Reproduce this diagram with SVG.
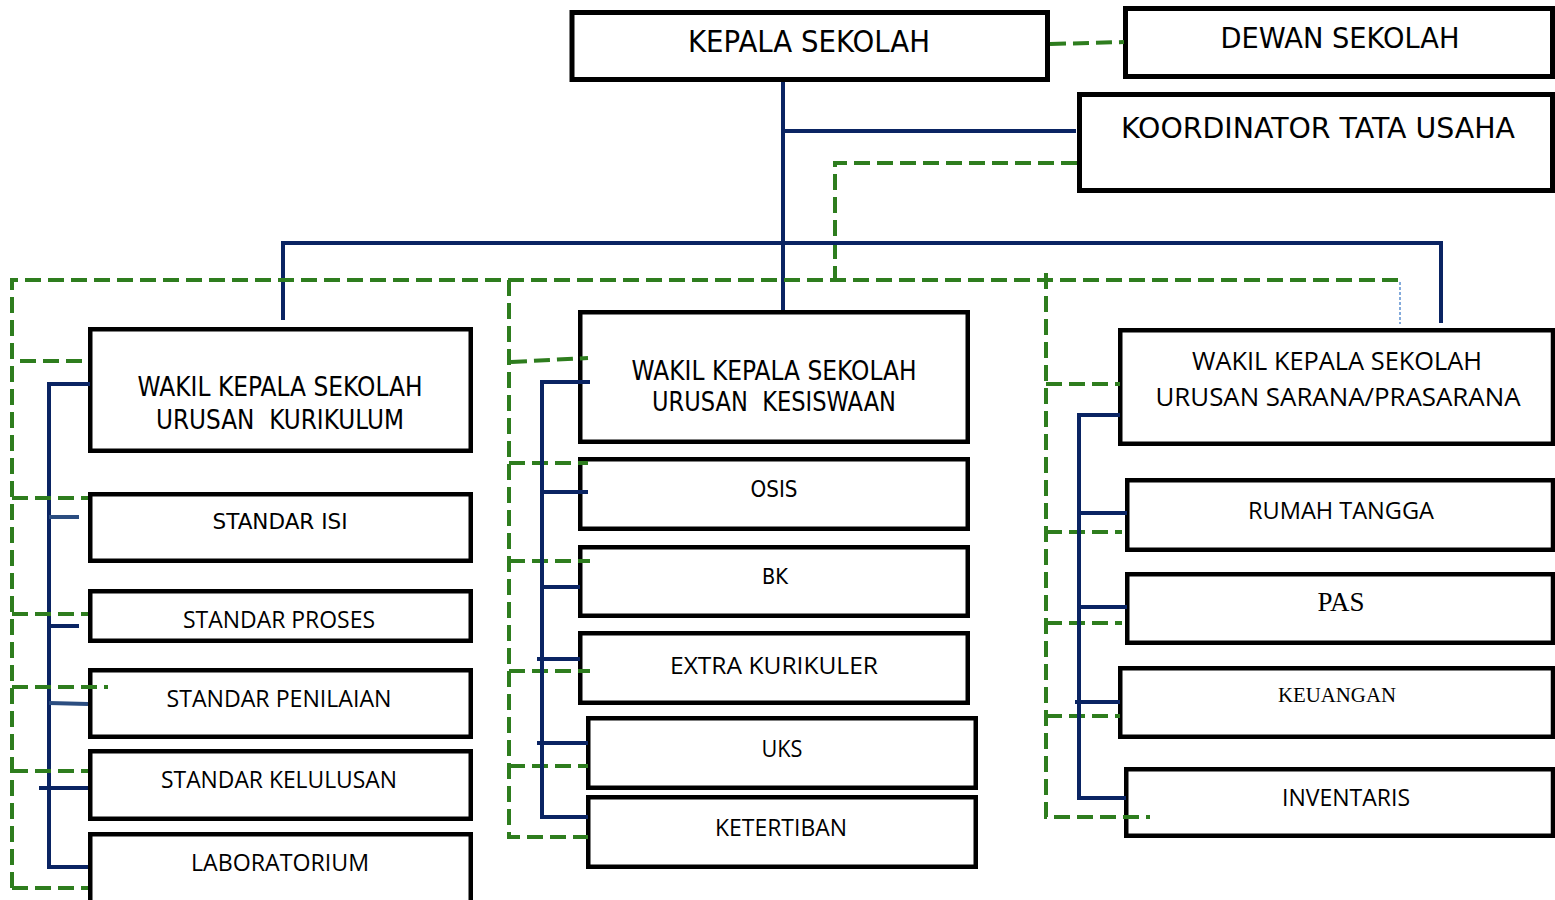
<svg xmlns="http://www.w3.org/2000/svg" width="1555" height="900" viewBox="0 0 1555 900">
<style>
.box{fill:#fff;stroke:#000;stroke-width:4.5}
.bt{stroke-width:5}
.t1{font-family:"DejaVu Sans","Liberation Sans",sans-serif;text-anchor:middle;fill:#000}
.t2{font-family:"Open Sans","Liberation Sans",sans-serif;text-anchor:middle;fill:#000}
.t3{font-family:"Liberation Serif","Times New Roman",serif;text-anchor:middle;fill:#000}
.blue{stroke:#0a2463;stroke-width:4;fill:none}
.blue2{stroke:#2b4d80;stroke-width:4;fill:none}
.green{stroke:#2e7d1e;stroke-width:4;stroke-dasharray:16 7;fill:none}
.dot{stroke:#5b8fd0;stroke-width:1.5;stroke-dasharray:3 2;fill:none}
</style>
<rect width="1555" height="900" fill="#fff"/>

<g id="kepala-sekolah"><rect class="box bt" x="572" y="12.5" width="475.5" height="67"/><text class="t1" x="809" y="52" font-size="30" textLength="242" lengthAdjust="spacingAndGlyphs">KEPALA SEKOLAH</text></g>
<g id="dewan-sekolah"><rect class="box bt" x="1125.5" y="8.5" width="427" height="68"/><text class="t1" x="1340" y="48" font-size="29" textLength="239" lengthAdjust="spacingAndGlyphs">DEWAN SEKOLAH</text></g>
<g id="koordinator-tu"><rect class="box bt" x="1079.5" y="94.5" width="473" height="96"/><text class="t1" x="1318" y="138" font-size="28" textLength="394" lengthAdjust="spacingAndGlyphs">KOORDINATOR TATA USAHA</text></g>

<g id="waka-kurikulum"><rect class="box" x="90.25" y="329.25" width="380.5" height="121.5"/><text class="t1" x="280" y="396" font-size="26" textLength="285" lengthAdjust="spacingAndGlyphs">WAKIL KEPALA SEKOLAH</text><text class="t1" x="280" y="429" font-size="26" textLength="248" lengthAdjust="spacingAndGlyphs" xml:space="preserve">URUSAN  KURIKULUM</text></g>
<g id="standar-isi"><rect class="box" x="90.25" y="494.25" width="380.5" height="66.5"/><text class="t1" x="280" y="529" font-size="22" textLength="135" lengthAdjust="spacingAndGlyphs">STANDAR ISI</text></g>
<g id="standar-proses"><rect class="box" x="90.25" y="591.25" width="380.5" height="49.5"/><text class="t2" x="279" y="628" font-size="23" textLength="192" lengthAdjust="spacingAndGlyphs">STANDAR PROSES</text></g>
<g id="standar-penilaian"><rect class="box" x="90.25" y="670.25" width="380.5" height="66.5"/><text class="t2" x="279" y="707" font-size="23" textLength="225" lengthAdjust="spacingAndGlyphs">STANDAR PENILAIAN</text></g>
<g id="standar-kelulusan"><rect class="box" x="90.25" y="751.25" width="380.5" height="67.5"/><text class="t2" x="279" y="788" font-size="23" textLength="236" lengthAdjust="spacingAndGlyphs">STANDAR KELULUSAN</text></g>
<g id="laboratorium"><rect class="box" x="90.25" y="834.25" width="380.5" height="80"/><text class="t2" x="280" y="871" font-size="23" textLength="178" lengthAdjust="spacingAndGlyphs">LABORATORIUM</text></g>

<g id="waka-kesiswaan"><rect class="box" x="580.25" y="312.25" width="387.5" height="129.5"/><text class="t1" x="774" y="380" font-size="26" textLength="285" lengthAdjust="spacingAndGlyphs">WAKIL KEPALA SEKOLAH</text><text class="t1" x="774" y="411" font-size="26" textLength="244" lengthAdjust="spacingAndGlyphs" xml:space="preserve">URUSAN  KESISWAAN</text></g>
<g id="osis"><rect class="box" x="580.25" y="459.25" width="387.5" height="69.5"/><text class="t1" x="774" y="497" font-size="23" textLength="47" lengthAdjust="spacingAndGlyphs">OSIS</text></g>
<g id="bk"><rect class="box" x="580.25" y="547.25" width="387.5" height="68.5"/><text class="t1" x="775" y="584" font-size="22" textLength="26" lengthAdjust="spacingAndGlyphs">BK</text></g>
<g id="extra-kurikuler"><rect class="box" x="580.25" y="633.25" width="387.5" height="69.5"/><text class="t2" x="774" y="674" font-size="23" textLength="208" lengthAdjust="spacingAndGlyphs">EXTRA KURIKULER</text></g>
<g id="uks"><rect class="box" x="588.25" y="718.25" width="387.5" height="69.5"/><text class="t2" x="782" y="757" font-size="23" textLength="41" lengthAdjust="spacingAndGlyphs">UKS</text></g>
<g id="ketertiban"><rect class="box" x="588.25" y="797.25" width="387.5" height="69.5"/><text class="t2" x="781" y="836" font-size="23" textLength="132" lengthAdjust="spacingAndGlyphs">KETERTIBAN</text></g>

<g id="waka-sarpras"><rect class="box" x="1120.25" y="330.25" width="432.75" height="113.5"/><text class="t2" x="1337" y="370" font-size="25" textLength="290" lengthAdjust="spacingAndGlyphs">WAKIL KEPALA SEKOLAH</text><text class="t2" x="1338" y="406" font-size="25" textLength="365" lengthAdjust="spacingAndGlyphs">URUSAN SARANA/PRASARANA</text></g>
<g id="rumah-tangga"><rect class="box" x="1127.25" y="480.25" width="425.75" height="69.5"/><text class="t2" x="1341" y="519" font-size="24" textLength="186" lengthAdjust="spacingAndGlyphs">RUMAH TANGGA</text></g>
<g id="pas"><rect class="box" x="1127.25" y="574.25" width="425.75" height="68.5"/><text class="t3" x="1341" y="611" font-size="27" textLength="47" lengthAdjust="spacingAndGlyphs">PAS</text></g>
<g id="keuangan"><rect class="box" x="1120.25" y="668.25" width="432.75" height="68.5"/><text class="t3" x="1337" y="702" font-size="21" textLength="118" lengthAdjust="spacingAndGlyphs">KEUANGAN</text></g>
<g id="inventaris"><rect class="box" x="1126.25" y="769.25" width="426.75" height="66.5"/><text class="t2" x="1346" y="806" font-size="23" textLength="128" lengthAdjust="spacingAndGlyphs">INVENTARIS</text></g>

<g id="connectors">
<!-- top structure -->
<path class="green" d="M1050 44 L1124 42"/>
<path class="blue" d="M783 82 V310 M783 131 H1076"/>
<path class="green" d="M1077 163 H835 V280"/>
<path class="blue" d="M283 320 V243 H1441 V323"/>
<path class="green" d="M12 888 V280 H1400"/>
<path class="dot" d="M1400 282 V324"/>
<!-- left column -->
<path class="blue" d="M90 384 H49 V867 H88"/>
<path class="blue2" d="M49 517 H79"/>
<path class="blue" d="M49 626 H79"/>
<path class="blue2" d="M49 703 L88 704"/>
<path class="blue" d="M39 788 H88"/>
<path class="green" d="M20 361 H88 M12 498 H88 M12 614 H88 M12 687 H108 M12 771 H88 M12 888 H88"/>
<!-- middle column -->
<path class="green" d="M509 280 V837 H588"/>
<path class="green" d="M511 362 L588 358 M509 463 H588 M509 561 H590 M509 671 H590 M509 766 H588"/>
<path class="blue" d="M590 382 H542 V817 H588"/>
<path class="blue" d="M542 492 H588 M542 587 H580 M537 659 H580 M537 743 H588"/>
<!-- right column -->
<path class="green" d="M1046 273 V817 H1150"/>
<path class="green" d="M1046 384 H1120 M1046 532 H1122 M1046 623 H1122 M1046 716 H1120"/>
<path class="blue" d="M1120 415 H1079 V798 H1126"/>
<path class="blue" d="M1079 513 H1127 M1079 607 H1127 M1075 702 H1120"/>
</g>
</svg>
